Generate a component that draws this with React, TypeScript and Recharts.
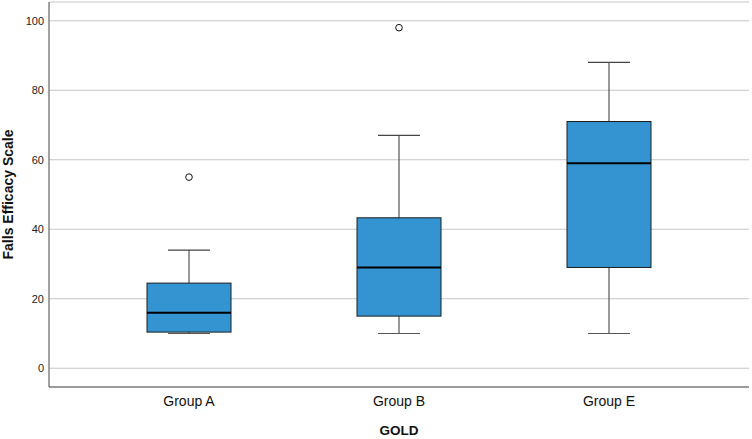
import { Bar, CartesianGrid, ComposedChart, Scatter, XAxis, YAxis } from "recharts";

const groups = ["Group A", "Group B", "Group E"];
const mins = [10, 10, 10];
const q1s = [10.4, 15, 29];
const medians = [16, 29, 59];
const q3s = [24.5, 43.3, 71];
const maxs = [34, 67, 88];

const outlierGroups = ["Group A", "Group B"];
const outlierValues = [55, 98];

const yTicks = [0, 20, 40, 60, 80, 100];

const FONT = "'Liberation Sans', Arial, Helvetica, sans-serif";
const BOX_FILL = "#3493d1";

const data = groups.map((group, i) => ({
  group,
  min: mins[i],
  q1: q1s[i],
  median: medians[i],
  q3: q3s[i],
  max: maxs[i],
  range: [mins[i], maxs[i]],
}));

const outliers = outlierGroups.map((group, i) => ({ group, value: outlierValues[i] }));

// the bar spans min..max, so the other stats are placed along it on the same scale
function BoxShape(props: any) {
  const { x, y, width, height, payload } = props;
  const top = Math.min(y, y + height);
  const h = Math.abs(height);
  const span = payload.max - payload.min;
  const toY = (v: number) => top + ((payload.max - v) / span) * h;
  const cx = x + width / 2;
  const capHalf = width / 4;
  const yMax = toY(payload.max);
  const yMin = toY(payload.min);
  const yQ3 = toY(payload.q3);
  const yQ1 = toY(payload.q1);
  const yMed = toY(payload.median);
  return (
    <g>
      <line x1={cx} x2={cx} y1={yMax} y2={yQ3} stroke="#333" strokeWidth={1} />
      <line x1={cx} x2={cx} y1={yQ1} y2={yMin} stroke="#333" strokeWidth={1} />
      <line x1={cx - capHalf} x2={cx + capHalf} y1={yMax} y2={yMax} stroke="#444" strokeWidth={1.2} />
      <line x1={cx - capHalf} x2={cx + capHalf} y1={yMin} y2={yMin} stroke="#555" strokeWidth={1.2} />
      <rect x={x} y={yQ3} width={width} height={yQ1 - yQ3} fill={BOX_FILL} stroke="#1e1e1e" strokeWidth={1} />
      <line x1={x} x2={x + width} y1={yMed} y2={yMed} stroke="#000" strokeWidth={2} />
    </g>
  );
}

function OutlierShape(props: any) {
  const { cx, cy } = props;
  return <circle cx={cx} cy={cy} r={3.3} fill="#fff" stroke="#111" strokeWidth={1} />;
}

export default function App() {
  return (
    <div style={{ position: "absolute", left: 0, top: 0, background: "#fff" }}>
      <ComposedChart
        width={752}
        height={439}
        data={data}
        margin={{ top: 2, right: 3, bottom: 0, left: 0 }}
        style={{ fontFamily: FONT }}
      >
        <CartesianGrid vertical={false} stroke="#c6c6c6" strokeWidth={1} />
        <XAxis
          dataKey="group"
          type="category"
          allowDuplicatedCategory={false}
          height={52}
          padding={{ left: 35, right: 35 }}
          axisLine={{ stroke: "#9a9a9a", strokeWidth: 2 }}
          tickLine={false}
          tickSize={0}
          tickMargin={9}
          tick={{ fill: "#111", fontSize: 14, fontFamily: FONT }}
          label={{
            content: (p: any) => {
              const vb = p.viewBox;
              return (
                <text
                  x={vb.x + vb.width / 2}
                  y={435}
                  textAnchor="middle"
                  fontSize={13.5}
                  fontWeight="bold"
                  fill="#111"
                  fontFamily={FONT}
                >
                  GOLD
                </text>
              );
            },
          }}
        />
        <YAxis
          type="number"
          domain={[-5.4, 105.4]}
          ticks={yTicks}
          width={49}
          axisLine={{ stroke: "#444", strokeWidth: 1 }}
          tickLine={false}
          tickSize={0}
          tickMargin={5}
          tick={{ fill: "#222", fontSize: 11, fontFamily: FONT }}
          label={{
            content: (p: any) => {
              const vb = p.viewBox;
              const cy = vb.y + vb.height / 2;
              return (
                <text
                  x={13}
                  y={cy}
                  transform={`rotate(-90, 13, ${cy})`}
                  textAnchor="middle"
                  fontSize={14}
                  fontWeight="bold"
                  fill="#111"
                  fontFamily={FONT}
                >
                  Falls Efficacy Scale
                </text>
              );
            },
          }}
        />
        <Bar dataKey="range" barSize={84} shape={<BoxShape />} isAnimationActive={false} />
        <Scatter data={outliers} dataKey="value" shape={<OutlierShape />} isAnimationActive={false} />
      </ComposedChart>
    </div>
  );
}
